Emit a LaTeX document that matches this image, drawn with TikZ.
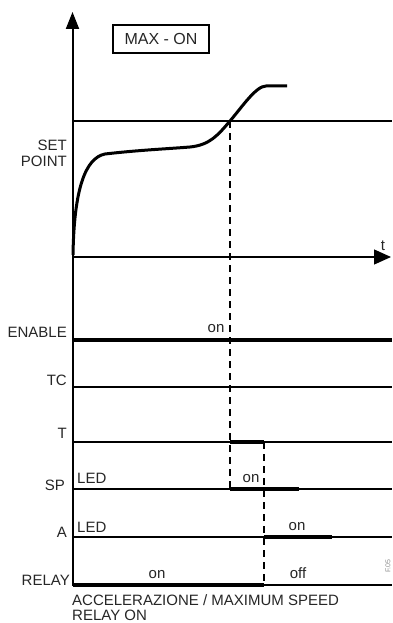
\documentclass[tikz,border=0pt]{standalone}
\usepackage{fontspec}
\setmainfont{Liberation Sans}
\usetikzlibrary{arrows.meta}
\definecolor{txt}{rgb}{0.15,0.15,0.15}
\begin{document}
\begin{tikzpicture}[x=1pt,y=-1pt,
  lbl/.style={font=\fontsize{15}{17}\selectfont, text=txt, inner sep=0pt},
  lbr/.style={lbl, anchor=base east},
  lbc/.style={lbl, anchor=base},
  lbw/.style={lbl, anchor=base west},
  thin line/.style={line width=1.3pt},
  thick line/.style={line width=4pt},
  dash line/.style={line width=1.6pt, dash pattern=on 7pt off 5pt},
  axis/.style={line width=2pt}]
\useasboundingbox (0,0) rectangle (392,623);
% coordinates
\coordinate (o) at (72.5,257);
\coordinate (ytop) at (72.5,12);
\coordinate (xend) at (391,257);
\coordinate (ybot) at (72.5,586);
\coordinate (sp0) at (72.5,121); \coordinate (sp1) at (392,121);
\coordinate (cross) at (230,121);
% axes
\draw[axis] (ybot) -- (o);
\draw[axis, -{Triangle[length=17pt,width=13pt]}] (o) -- (ytop);
\draw[thin line, -{Triangle[length=17pt,width=15pt]}] (o) -- (xend);
\node[lbc] (tl) at (383,250) {t};
% MAX - ON box
\node[draw, line width=2.2pt, minimum width=96pt, minimum height=28pt, inner sep=0pt,
  font=\fontsize{16}{18}\selectfont, text=txt] (box) at (161,39) {MAX - ON};
% set point
\draw[thin line] (sp0) -- (sp1);
\node[lbr] (set) at (67,150) {SET};
\node[lbr] (point) at (67,166) {POINT};
% curve
\draw[line width=3pt] (73,255) .. controls (74,190) and (85,158) .. (105,154)
  .. controls (140,150) and (165,149) .. (190,147)
  .. controls (210,145) and (218,135) .. (cross)
  .. controls (242,107) and (256,86) .. (266,86) -- (287,86);
% signal rows
\coordinate (en0) at (72.5,340); \coordinate (en1) at (392,340);
\coordinate (tc0) at (72.5,387); \coordinate (tc1) at (392,387);
\coordinate (t0) at (72.5,442); \coordinate (t1) at (392,442);
\coordinate (s0) at (72.5,489); \coordinate (s1) at (392,489);
\coordinate (a0) at (72.5,537); \coordinate (a1) at (392,537);
\coordinate (r0) at (72.5,585); \coordinate (r1) at (392,585);
\draw[thick line] (en0) -- (en1);
\draw[thin line] (tc0) -- (tc1);
\draw[thin line] (t0) -- (t1);
\draw[thin line] (s0) -- (s1);
\draw[thin line] (a0) -- (a1);
\draw[thin line] (r0) -- (r1);
% thick active segments
\coordinate (tA) at (230,442); \coordinate (tB) at (264,442);
\coordinate (sA) at (230,489); \coordinate (sB) at (299,489);
\coordinate (aA) at (264,537); \coordinate (aB) at (332,537);
\coordinate (rB) at (264,585);
\draw[thick line] (tA) -- (tB);
\draw[thick line] (sA) -- (sB);
\draw[thick line] (aA) -- (aB);
\draw[thick line] (r0) -- (rB);
% dashed lines
\draw[dash line] (cross) -- (sA);
\draw[dash line] (tB) -- (rB);
% labels
\node[lbr] (enl) at (67,337) {ENABLE};
\node[lbc] (enon) at (216,332) {on};
\node[lbr] (tcl) at (67,385) {TC};
\node[lbr] (tlab) at (67,438) {T};
\node[lbr] (spl) at (65,490) {SP};
\node[lbw] (led1) at (77,483) {LED};
\node[lbc] (spon) at (251,482) {on};
\node[lbr] (al) at (67,537) {A};
\node[lbw] (led2) at (77,532) {LED};
\node[lbc] (aon) at (297,530) {on};
\node[lbr] (rl) at (70,585) {RELAY};
\node[lbc] (ron) at (157,578) {on};
\node[lbc] (roff) at (298,578) {off};
\node[lbw] (cap1) at (72,605) {ACCELERAZIONE / MAXIMUM SPEED};
\node[lbw] (cap2) at (72,620) {RELAY ON};
\node[font=\fontsize{7}{8}\selectfont, text=black!45, rotate=90, inner sep=0pt] (fig) at (388,566) {F.05};
\end{tikzpicture}
\end{document}
